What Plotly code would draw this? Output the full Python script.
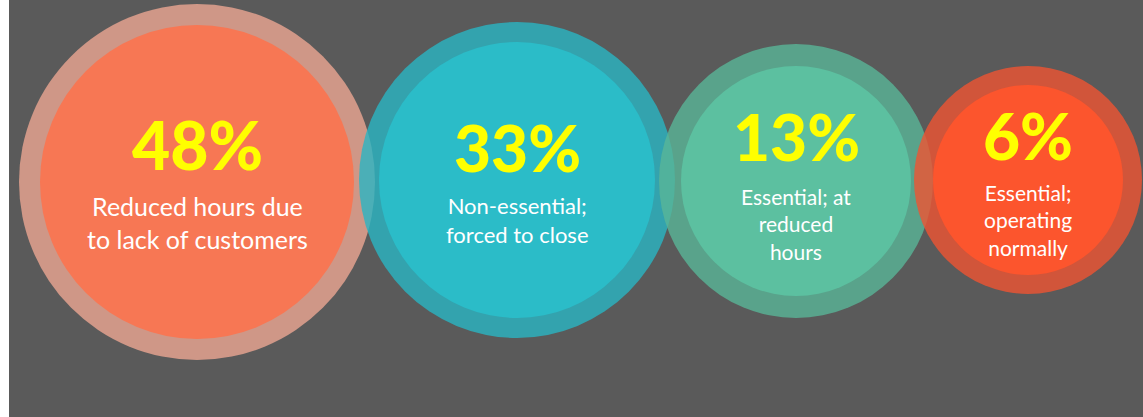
import plotly.graph_objects as go

# ---- data ----
categories = [
    "Reduced hours due<br>to lack of customers",
    "Non-essential;<br>forced to close",
    "Essential; at<br>reduced<br>hours",
    "Essential;<br>operating<br>normally",
]
values = [48, 33, 13, 6]

# ---- layout / style constants (pixel units) ----
centers_x = [197, 517, 796, 1028]
centers_y = [182, 180, 181, 180]
outer_r = [178, 158, 137, 114]
inner_r = [157, 138, 115, 95]
ring_colors = ["rgba(236,166,146,0.8)", "rgba(41,181,195,0.8)",
               "rgba(89,181,151,0.8)", "rgba(239,84,50,0.8)"]
inner_colors = ["#F77754", "#2BBCC8", "#5CC0A0", "#FC552D"]
pct_dy = [-38, -33, -45, -45]
lab_dy = [40, 40, 43, 40]
lab_size = [25, 22, 21, 21]
pct_size = [66, 64, 64, 64]

W, H = 1143, 417
BG = "#5A5A5A"

fig = go.Figure()
fig.add_trace(go.Scatter(x=[None], y=[None], showlegend=False, hoverinfo="skip"))

shapes = []
annotations = []
for i, v in enumerate(values):
    cx, cy = centers_x[i], centers_y[i]
    ro, ri = outer_r[i], inner_r[i]
    shapes.append(dict(type="circle", xref="x", yref="y", layer="above",
                       x0=cx - ro, x1=cx + ro, y0=cy - ro, y1=cy + ro,
                       fillcolor=ring_colors[i], line=dict(width=0)))
    shapes.append(dict(type="circle", xref="x", yref="y", layer="above",
                       x0=cx - ri, x1=cx + ri, y0=cy - ri, y1=cy + ri,
                       fillcolor=inner_colors[i], line=dict(width=0)))
    annotations.append(dict(x=cx, y=cy + pct_dy[i], xref="x", yref="y",
                            text=f"{v}%", showarrow=False,
                            xanchor="center", yanchor="middle",
                            font=dict(family="Lato", size=pct_size[i],
                                      color="#FFFF00", weight=900)))
    annotations.append(dict(x=cx, y=cy + lab_dy[i], xref="x", yref="y",
                            text=categories[i], showarrow=False,
                            xanchor="center", yanchor="middle", align="center",
                            font=dict(family="Lato", size=lab_size[i],
                                      color="#FFFFFF")))

fig.update_layout(
    width=W, height=H,
    margin=dict(l=9, r=0, t=0, b=0),
    paper_bgcolor="#FFFFFF",
    plot_bgcolor=BG,
    shapes=shapes,
    annotations=annotations,
    xaxis=dict(range=[9, W], visible=False, fixedrange=True),
    yaxis=dict(range=[H, 0], visible=False, fixedrange=True),
    showlegend=False,
)

fig.write_html("out.html", config={"displayModeBar": False})
